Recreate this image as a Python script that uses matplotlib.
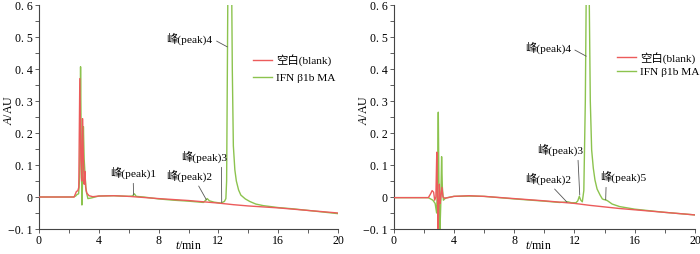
import matplotlib
matplotlib.use("Agg")
import matplotlib.pyplot as plt
from matplotlib.ticker import MultipleLocator, FixedLocator, FixedFormatter

plt.rcParams['font.family'] = ['Liberation Serif', 'Noto Sans CJK SC']
plt.rcParams['mathtext.fontset'] = 'custom'
plt.rcParams['mathtext.it'] = 'Liberation Serif:italic'
plt.rcParams['mathtext.rm'] = 'Liberation Serif'

# ---------------- data ----------------
# Left panel, IFN β1b MA (green)
tL_g = [0, 2.3, 2.45, 2.55, 2.65, 2.72, 2.78, 2.82, 2.87, 2.92,
        2.97, 3.02, 3.08, 3.15, 3.27, 3.5, 4.0, 5.0, 6.0, 6.25,
        6.38, 6.5, 7.0, 8.0, 9.0, 10.0, 11.0, 11.15, 11.25, 11.4,
        11.7, 12.0, 12.2, 12.3, 12.4, 12.5, 12.55, 12.6, 12.64, 12.76,
        12.88, 12.93, 13.0, 13.1, 13.2, 13.35, 13.5, 13.8, 14.1, 14.5,
        15, 16, 17, 18, 19, 20]
AL_g = [0, 0, 0.003, 0.008, 0.01, 0.06, 0.407, 0.2, -0.025, 0.06,
        0.22, 0.12, 0.07, 0.02, -0.005, -0.003, 0.003, 0.004, 0.002, 0.003,
        0.01, 0.002, 0.0, -0.006, -0.01, -0.013, -0.017, -0.01, -0.005, -0.012,
        -0.016, -0.018, -0.019, -0.016, -0.014, -0.005, 0.05, 0.4, 0.7, 1.6,
        0.7, 0.4, 0.16, 0.085, 0.05, 0.022, 0.006, -0.006, -0.014, -0.022,
        -0.027, -0.033, -0.037, -0.042, -0.047, -0.052]
# Left panel, blank (red)
tL_r = [0, 2.35, 2.42, 2.5, 2.6, 2.66, 2.73, 2.8, 2.86, 2.91,
        2.97, 3.02, 3.07, 3.12, 3.2, 3.35, 3.6, 4, 5, 6,
        8, 10, 12, 13, 14, 15, 16, 18, 20]
AL_r = [0, 0, 0.008, 0.017, 0.02, 0.03, 0.37, 0.12, 0.05, 0.245,
        0.12, 0.04, 0.08, 0.03, 0.012, 0.004, 0.001, 0.003, 0.004, 0.002,
        -0.005, -0.011, -0.019, -0.024, -0.028, -0.031, -0.034, -0.042, -0.05]

# Right panel, IFN β1b MA (green)
tR_g = [0, 2.3, 2.6, 2.75, 2.85, 2.91, 2.96, 3.0, 3.06, 3.12,
        3.18, 3.23, 3.3, 3.45, 4.0, 5.0, 6.0, 8.0, 10.0, 11.0,
        11.4, 11.55, 11.8, 12.1, 12.22, 12.32, 12.42, 12.52, 12.62, 12.72,
        12.8, 12.9, 12.98, 13.05, 13.14, 13.25, 13.36, 13.5, 13.7, 13.85,
        13.95, 14.07, 14.2, 14.5, 15.0, 16, 17, 18, 19, 20]
AR_g = [-0.002, -0.002, -0.01, -0.02, -0.05, 0.05, 0.265, 0.05, -0.12, -0.03,
        0.126, 0.03, -0.01, -0.003, 0.002, 0.003, 0.002, -0.006, -0.013, -0.017,
        -0.016, -0.015, -0.018, -0.018, -0.012, 0.002, -0.01, -0.015, 0.02, 0.3,
        0.75, 1.6, 0.62, 0.3, 0.147, 0.09, 0.053, 0.025, 0.006, -0.006,
        -0.008, -0.009, -0.012, -0.022, -0.03, -0.038, -0.043, -0.048, -0.052, -0.056]
# Right panel, blank (red)
tR_r = [0, 2.3, 2.45, 2.55, 2.65, 2.72, 2.8, 2.86, 2.9, 2.94,
        2.98, 3.03, 3.08, 3.13, 3.2, 3.27, 3.4, 4, 5, 6,
        8, 10, 12, 13, 14, 15, 16, 18, 20]
AR_r = [-0.002, -0.002, 0.01, 0.02, 0.015, -0.01, 0.0, 0.14, 0.02, -0.1,
        -0.05, 0.04, -0.02, 0.0, 0.03, 0.0, -0.004, 0.002, 0.004, 0.002,
        -0.005, -0.012, -0.02, -0.026, -0.031, -0.036, -0.04, -0.048, -0.056]

series_labels = ['空白(blank)', 'IFN β1b MA']
x_ticks = [0, 4, 8, 12, 16, 20]
y_ticks = [-0.1, 0, 0.1, 0.2, 0.3, 0.4, 0.5, 0.6]
y_tick_labels = ['−0. 1', '0', '0. 1', '0. 2', '0. 3', '0. 4', '0. 5', '0. 6']

# annotations: (label, point, text position, relpos)
ann_left = [
    ('峰(peak)1', (6.33, 0.006), (6.3, 0.075), (0.5, 0.0)),
    ('峰(peak)2', (11.2, -0.009), (10.07, 0.066), (0.65, 0.0)),
    ('峰(peak)3', (12.22, -0.017), (11.03, 0.125), (0.88, 0.0)),
    ('峰(peak)4', (12.6, 0.469), (10.07, 0.494), (1.0, 0.5)),
]
ann_right = [
    ('峰(peak)2', (11.5, -0.016), (10.23, 0.056), (0.57, 0.0)),
    ('峰(peak)3', (12.35, 0.006), (11.03, 0.147), (0.89, 0.0)),
    ('峰(peak)4', (12.78, 0.44), (10.23, 0.466), (1.0, 0.5)),
    ('峰(peak)5', (14.07, -0.009), (15.24, 0.0625), (0.13, 0.0)),
]

RED = '#ec5b5b'
GREEN = '#8cc34e'
FS = 8.2
TFS = 8.6

fig = plt.figure(figsize=(7.0, 2.54), dpi=100)
axL = fig.add_axes([39/700, 1-229/254, 299/700, 224/254])
axR = fig.add_axes([393.7/700, 1-229/254, 301.3/700, 224/254])

panels = [
    (axL, tL_g, AL_g, tL_r, AL_r, ann_left, (0.716, 0.782), 0.6, 0.498),
    (axR, tR_g, AR_g, tR_r, AR_r, ann_right, (0.741, 0.792), 0.3, 0.479),
]

for ax, tg, ag, tr, ar, anns, lpos, lspace, xlab_x in panels:
    lg, = ax.plot(tg, ag, color=GREEN, lw=1.0, label=series_labels[1], zorder=2)
    lr, = ax.plot(tr, ar, color=RED, lw=1.0, label=series_labels[0], zorder=3)
    ax.set_xlim(0, 20)
    ax.set_ylim(-0.1, 0.6)
    for s in ('top', 'right'):
        ax.spines[s].set_visible(False)
    for s in ('left', 'bottom'):
        ax.spines[s].set_color('#444444')
        ax.spines[s].set_linewidth(0.8)
    ax.xaxis.set_major_locator(FixedLocator(x_ticks))
    ax.xaxis.set_minor_locator(MultipleLocator(2))
    ax.yaxis.set_major_locator(FixedLocator(y_ticks))
    ax.yaxis.set_major_formatter(FixedFormatter(y_tick_labels))
    ax.yaxis.set_minor_locator(MultipleLocator(0.05))
    ax.tick_params(which='both', direction='out', length=3, width=0.6,
                   color='#444444', labelsize=TFS)
    ax.tick_params(axis='x', pad=1.0)
    ax.tick_params(axis='y', pad=1.5)
    ax.set_xlabel('$t$/min', fontsize=TFS)
    ax.xaxis.set_label_coords(xlab_x, -0.048)
    ax.set_ylabel('$A$/AU', fontsize=TFS)
    ax.yaxis.set_label_coords(-0.08, 0.53)

    for txt, pt, tpos, rp in anns:
        ax.annotate(txt, xy=pt, xytext=tpos, ha='center', va='center',
                    fontsize=FS,
                    arrowprops=dict(arrowstyle='-', color='#555555', lw=0.6,
                                    relpos=rp, shrinkA=1, shrinkB=0))

    ax.legend(handles=[lr, lg], loc='upper left', bbox_to_anchor=lpos,
              frameon=False, fontsize=FS, handlelength=1.7,
              handletextpad=0.3, labelspacing=lspace, borderpad=0,
              borderaxespad=0)

fig.savefig('out.png', dpi=100)
